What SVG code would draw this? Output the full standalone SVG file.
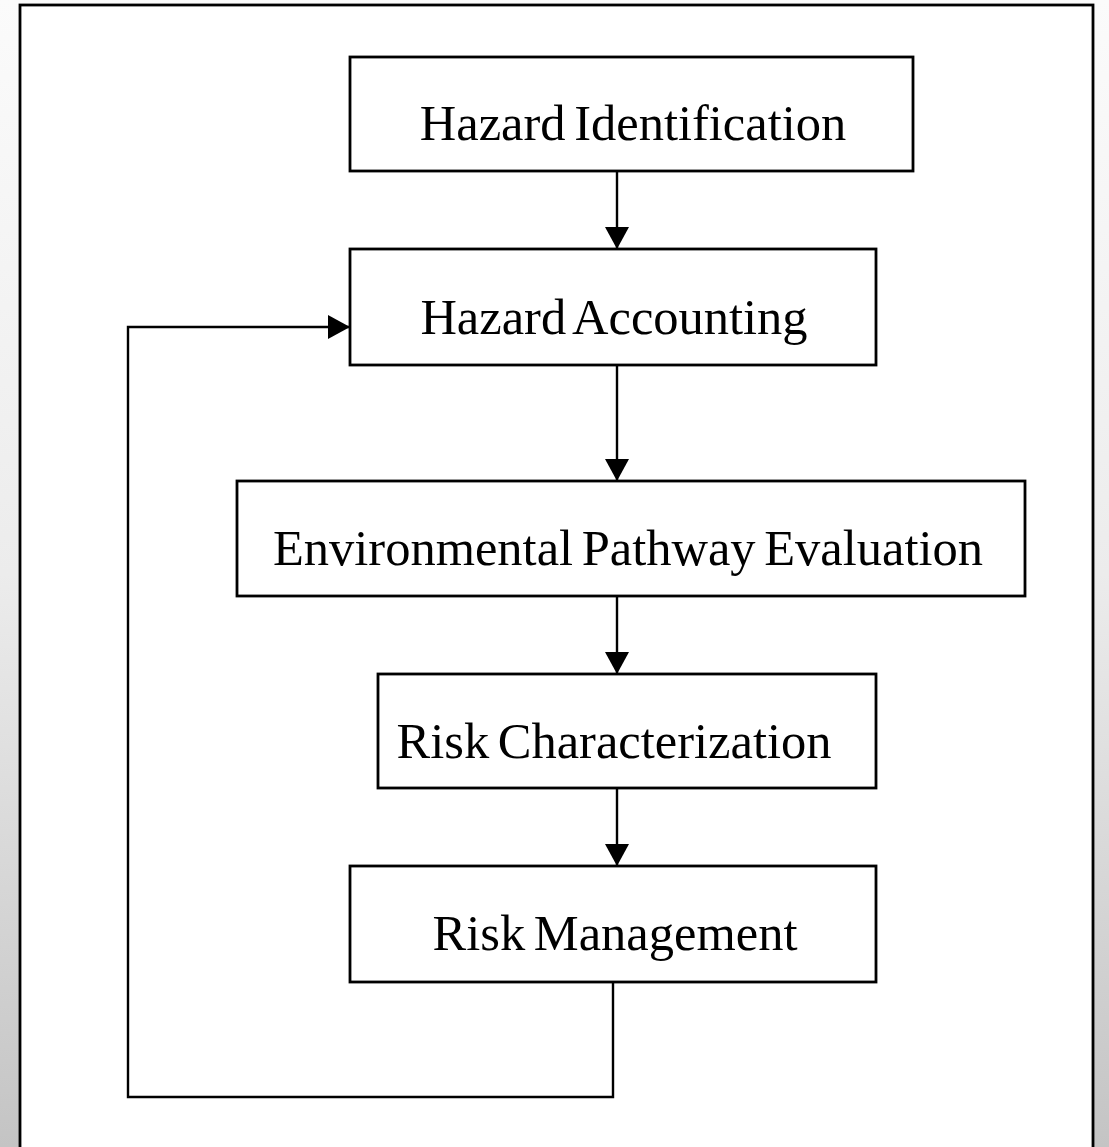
<svg xmlns="http://www.w3.org/2000/svg" width="1109" height="1147" viewBox="0 0 1109 1147">
<defs>
<linearGradient id="bg" x1="0" y1="0" x2="0" y2="1">
<stop offset="0" stop-color="#fbfbfb"/>
<stop offset="0.5" stop-color="#ececec"/>
<stop offset="1" stop-color="#c4c4c4"/>
</linearGradient>
<marker id="ah" markerWidth="24" markerHeight="26" refX="22" refY="12" orient="auto" markerUnits="userSpaceOnUse">
<path d="M0,0 L22,12 L0,24 Z" fill="#000"/>
</marker>
<style>
.box{fill:#fff;stroke:#000;stroke-width:2.8}
.lbl{font-family:"Liberation Serif","Times New Roman",serif;font-size:50.5px;fill:#000;text-anchor:middle;word-spacing:-4px}
.conn{fill:none;stroke:#000;stroke-width:2.4}
</style>
</defs>
<rect x="0" y="0" width="1109" height="1147" fill="url(#bg)"/>
<rect x="20" y="5" width="1073" height="1150" fill="#fff" stroke="#000" stroke-width="2.8"/>
<g id="n1"><rect class="box" x="350" y="57" width="563" height="114"/><text class="lbl" x="633" y="140">Hazard Identification</text></g>
<g id="n2"><rect class="box" x="350" y="249" width="526" height="116"/><text class="lbl" x="614" y="334">Hazard Accounting</text></g>
<g id="n3"><rect class="box" x="237" y="481" width="788" height="115"/><text class="lbl" x="628" y="565">Environmental Pathway Evaluation</text></g>
<g id="n4"><rect class="box" x="378" y="674" width="498" height="114"/><text class="lbl" x="614" y="758">Risk Characterization</text></g>
<g id="n5"><rect class="box" x="350" y="866" width="526" height="116"/><text class="lbl" x="615" y="950">Risk Management</text></g>
<g id="connectors">
<line class="conn" x1="617" y1="171" x2="617" y2="249" marker-end="url(#ah)"/>
<line class="conn" x1="617" y1="365" x2="617" y2="481" marker-end="url(#ah)"/>
<line class="conn" x1="617" y1="596" x2="617" y2="674" marker-end="url(#ah)"/>
<line class="conn" x1="617" y1="788" x2="617" y2="866" marker-end="url(#ah)"/>
<polyline class="conn" points="613,982 613,1097 128,1097 128,327 350,327" marker-end="url(#ah)"/>
</g>
</svg>
